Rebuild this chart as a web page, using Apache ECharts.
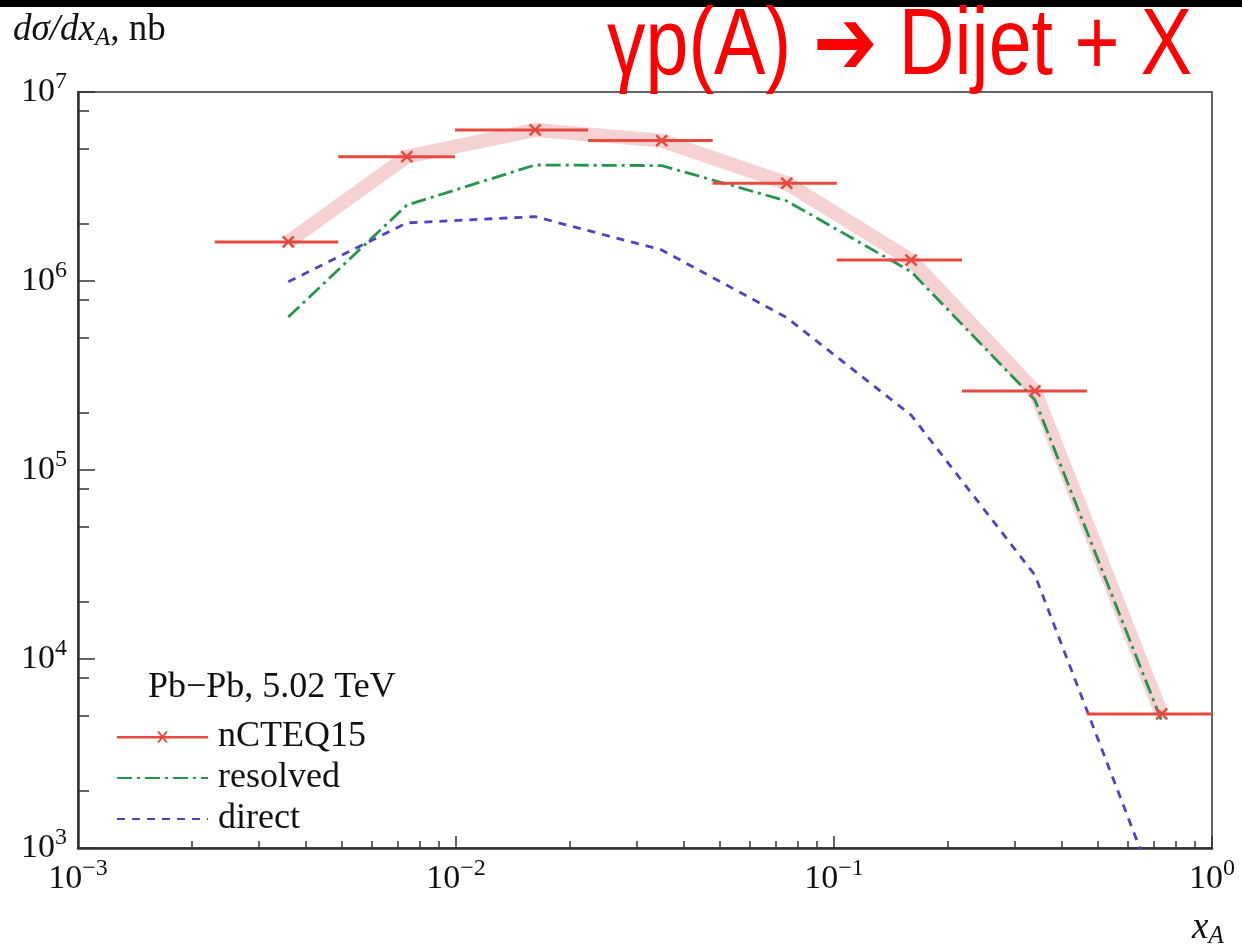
<!DOCTYPE html>
<html><head><meta charset="utf-8">
<script src="https://cdn.jsdelivr.net/npm/echarts@6/dist/echarts.min.js"></script>
<style>html,body{margin:0;padding:0;background:#fff}#c{width:1242px;height:944px}</style>
</head><body><div id="c"></div>
<script>
// ---- data ----
const binLow   = [0.00230, 0.00488, 0.00994, 0.02235, 0.04775, 0.1017, 0.2181, 0.4668];
const binHigh  = [0.00488, 0.00994, 0.02235, 0.04775, 0.1017, 0.2181, 0.4668, 1.0];
const xCenter  = [0.00360, 0.00741, 0.01620, 0.03500, 0.07500, 0.1600, 0.3400, 0.7360];
const nCTEQ15  = [1.61e6, 4.55e6, 6.30e6, 5.53e6, 3.29e6, 1.29e6, 2.62e5, 5.12e3];
const resolved = [6.45e5, 2.52e6, 4.11e6, 4.08e6, 2.65e6, 1.12e6, 2.35e5, 4.70e3];
const direct   = [9.9e5, 2.03e6, 2.19e6, 1.46e6, 6.4e5, 1.95e5, 2.78e4, 5.0e2];
const xMajorTicks = [0.001, 0.01, 0.1, 1];
const xMinorTicks = [0.002,0.003,0.004,0.005,0.006,0.007,0.008,0.009,
                     0.02,0.03,0.04,0.05,0.06,0.07,0.08,0.09,
                     0.2,0.3,0.4,0.5,0.6,0.7,0.8,0.9];
const yMajorTicks = [1e3, 1e4, 1e5, 1e6, 1e7];
const yMinorTicks = [2e3,5e3,8e3, 2e4,5e4,8e4, 2e5,5e5,8e5, 2e6,5e6,8e6];
const seriesNames = ['nCTEQ15', 'resolved', 'direct'];

const RED = '#e64a3e', GREEN = '#23954c', BLUE = '#4d44bd', AX = '#333';
const SERIF = 'Liberation Serif';

function powLabel(v) {
  const e = Math.round(Math.log10(v));
  return '{b|10}{s|' + (e < 0 ? '\u2212' + (-e) : e) + '}';
}
const labelRich = {
  b: {fontSize: 34, fontFamily: SERIF, color: '#111', lineHeight: 44},
  s: {fontSize: 24, fontFamily: SERIF, color: '#111', padding: [0, 0, 20, 0]}
};

const chart = echarts.init(document.getElementById('c'), null, {renderer: 'canvas'});
const option = {
  animation: false,
  backgroundColor: '#fff',
  grid: {left: 78, right: 30, top: 92, bottom: 96, show: true, borderColor: AX, borderWidth: 1.5, backgroundColor: 'transparent'},
  xAxis: [{
    type: 'log', logBase: 10, min: 0.001, max: 1, position: 'bottom',
    axisLine: {onZero: false, lineStyle: {color: AX, width: 2.5}},
    axisTick: {inside: true, length: 12, lineStyle: {color: AX, width: 1.5}, customValues: xMajorTicks},
    axisLabel: {margin: 9, customValues: xMajorTicks, formatter: powLabel, rich: labelRich},
    splitLine: {show: false}
  }, {
    type: 'log', logBase: 10, min: 0.001, max: 1, position: 'bottom',
    axisLine: {show: false, onZero: false},
    axisTick: {inside: true, length: 7, lineStyle: {color: AX, width: 1.5}, customValues: xMinorTicks},
    axisLabel: {show: false},
    splitLine: {show: false}
  }],
  yAxis: [{
    type: 'log', logBase: 10, min: 1e3, max: 1e7, position: 'left',
    axisLine: {show: true, onZero: false, lineStyle: {color: AX, width: 2.5}},
    axisTick: {show: true, inside: true, length: 17, lineStyle: {color: AX, width: 1.5}, customValues: yMajorTicks},
    axisLabel: {margin: 11, customValues: yMajorTicks, formatter: powLabel, rich: labelRich},
    splitLine: {show: false}
  }, {
    type: 'log', logBase: 10, min: 1e3, max: 1e7, position: 'left',
    axisLine: {show: false, onZero: false},
    axisTick: {show: true, inside: true, length: 11, lineStyle: {color: AX, width: 1.5}, customValues: yMinorTicks},
    axisLabel: {show: false},
    splitLine: {show: false}
  }],
  legend: {
    orient: 'vertical', left: 116, top: 719, padding: 0, itemWidth: 91, itemHeight: 14, itemGap: 5,
    selectedMode: false,
    textStyle: {fontFamily: SERIF, fontSize: 36, color: '#111', lineHeight: 36, padding: [0, 0, 0, 5]},
    data: [
      {name: seriesNames[0], icon: 'path://M0,0L0.2,0L0,0.2Z M0,6L91,6L91,8.6L0,8.6Z M40,1.5L42.4,1.5L51,12.5L48.6,12.5Z M48.6,1.5L51,1.5L42.4,12.5L40,12.5Z M91,14L90.8,14L91,13.8Z'},
      {name: seriesNames[1], itemStyle: {opacity: 0}},
      {name: seriesNames[2], itemStyle: {opacity: 0}}
    ]
  },
  series: [{
    name: 'band', type: 'line', silent: true, z: 1, symbol: 'none',
    data: xCenter.map((x, i) => [x, nCTEQ15[i]]),
    lineStyle: {color: '#f6d1d1', width: 14, cap: 'butt', join: 'round'}
  }, {
    name: seriesNames[1], type: 'line', z: 3, symbol: 'none',
    data: xCenter.map((x, i) => [x, resolved[i]]),
    itemStyle: {color: GREEN},
    lineStyle: {color: GREEN, width: 2.8, type: [15, 5, 3, 5]}
  }, {
    name: seriesNames[2], type: 'line', z: 3, symbol: 'none',
    data: xCenter.map((x, i) => [x, direct[i]]),
    itemStyle: {color: BLUE},
    lineStyle: {color: BLUE, width: 2.8, type: [8, 7]}
  }, {
    name: seriesNames[0], type: 'custom', z: 5,
    itemStyle: {color: RED},
    encode: {x: [0, 1, 2], y: 3},
    data: binLow.map((lo, i) => [lo, binHigh[i], xCenter[i], nCTEQ15[i]]),
    renderItem: function (params, api) {
      const y = api.value(3);
      const lo = api.coord([api.value(0), y]);
      const hi = api.coord([api.value(1), y]);
      const c = api.coord([api.value(2), y]);
      const s = 5.5;
      const st = {stroke: RED, lineWidth: 3};
      const sx = {stroke: RED, lineWidth: 2.5};
      return {type: 'group', children: [
        {type: 'line', shape: {x1: lo[0], y1: lo[1], x2: hi[0], y2: hi[1]}, style: st},
        {type: 'line', shape: {x1: c[0] - s, y1: c[1] - s, x2: c[0] + s, y2: c[1] + s}, style: sx},
        {type: 'line', shape: {x1: c[0] - s, y1: c[1] + s, x2: c[0] + s, y2: c[1] - s}, style: sx}
      ]};
    }
  }],
  graphic: [
    {type: 'rect', shape: {x: 0, y: 0, width: 1242, height: 7}, style: {fill: '#000'}, z: 10},
    {type: 'text', x: 607, y: 48, scaleX: 0.82, z: 10,
     style: {text: '\u03b3p(A) \u2794 Dijet + X', fontSize: 94, fontFamily: 'Liberation Sans', fill: '#ff0000', align: 'left', verticalAlign: 'middle'}},
    {type: 'text', x: 13, y: 10, z: 10,
     style: {text: '{i|d\u03c3/dx}{sub|A}{r|, nb}', align: 'left', verticalAlign: 'top',
       rich: {
         i: {fontSize: 37, fontFamily: SERIF, fontStyle: 'italic', fill: '#111'},
         sub: {fontSize: 25, fontFamily: SERIF, fontStyle: 'italic', fill: '#111', padding: [16, 0, 0, 0]},
         r: {fontSize: 37, fontFamily: SERIF, fill: '#111'}
       }}},
    {type: 'text', x: 1192, y: 908, z: 10,
     style: {text: '{i|x}{sub|A}', align: 'left', verticalAlign: 'top',
       rich: {
         i: {fontSize: 37, fontFamily: SERIF, fontStyle: 'italic', fill: '#111'},
         sub: {fontSize: 25, fontFamily: SERIF, fontStyle: 'italic', fill: '#111', padding: [16, 0, 0, 0]}
       }}},
    {type: 'text', x: 148, y: 688, z: 10,
     style: {text: 'Pb\u2212Pb, 5.02 TeV', fontSize: 36, fontFamily: SERIF, fill: '#111', align: 'left', verticalAlign: 'middle'}}
  ]
};
chart.setOption(option);
</script>
</body></html>
